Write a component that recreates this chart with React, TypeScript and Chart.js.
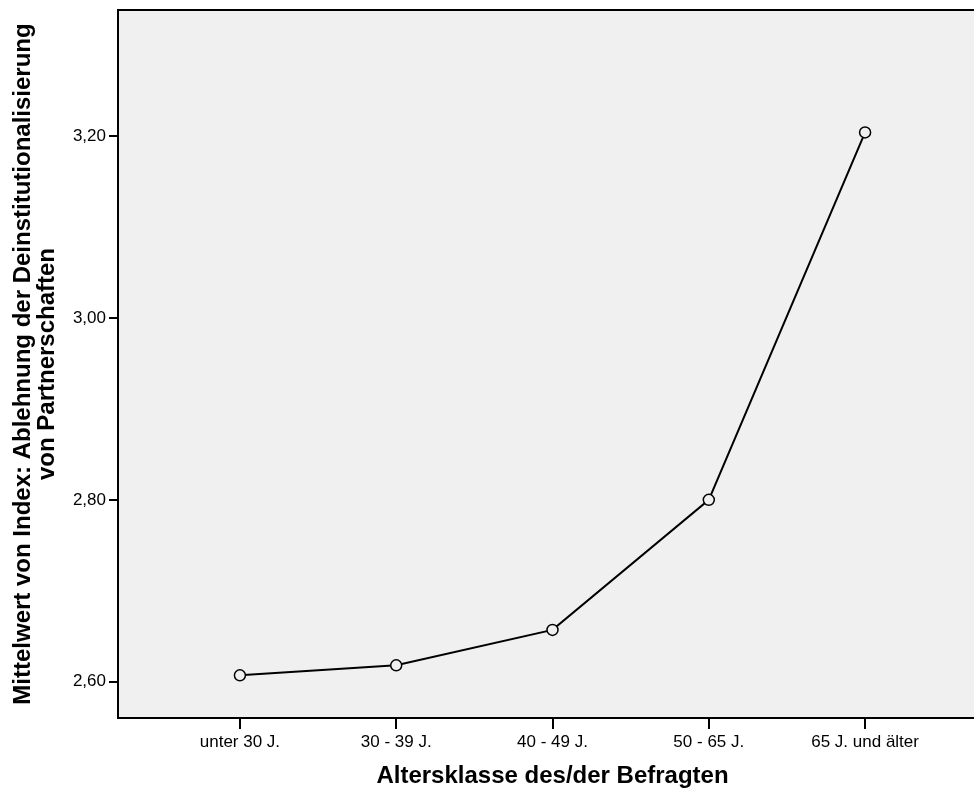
import React, { useEffect, useRef } from "react";
import { Chart, registerables } from "chart.js";

Chart.register(...registerables);

const categories = ["unter 30 J.", "30 - 39 J.", "40 - 49 J.", "50 - 65 J.", "65 J. und älter"];
const meanValues = [2.607, 2.618, 2.657, 2.8, 3.204];
const yTickValues = [2.6, 2.8, 3.0, 3.2];
const yTitle = ["Mittelwert von Index: Ablehnung der Deinstitutionalisierung", "von Partnerschaften"];
const xTitle = "Altersklasse des/der Befragten";

const FONT = "'Liberation Sans', Arial, sans-serif";

export default function App() {
  const ref = useRef<HTMLCanvasElement | null>(null);

  useEffect(() => {
    if (!ref.current) return;
    const bgPlugin = {
      id: "plotBg",
      beforeDraw(chart: any) {
        const { ctx, chartArea } = chart;
        ctx.save();
        ctx.fillStyle = "#f0f0f0";
        ctx.fillRect(chartArea.left, chartArea.top, chartArea.right - chartArea.left, chartArea.bottom - chartArea.top);
        ctx.restore();
      },
      afterDraw(chart: any) {
        const { ctx, chartArea } = chart;
        ctx.save();
        ctx.strokeStyle = "#000";
        ctx.lineWidth = 2;
        ctx.beginPath();
        ctx.moveTo(chartArea.left - 1, chartArea.top);
        ctx.lineTo(chartArea.right + 1, chartArea.top);
        ctx.moveTo(chartArea.right, chartArea.top);
        ctx.lineTo(chartArea.right, chartArea.bottom);
        ctx.stroke();
        ctx.restore();
      },
    };

    const chart = new Chart(ref.current, {
      type: "line",
      data: {
        datasets: [
          {
            data: meanValues.map((v, i) => ({ x: i, y: v })),
            borderColor: "#000",
            borderWidth: 2,
            pointRadius: 5.5,
            pointBorderWidth: 1.5,
            pointBorderColor: "#000",
            pointBackgroundColor: "#f0f0f0",
            pointHoverRadius: 5.5,
            tension: 0,
            fill: false,
          },
        ],
      },
      options: {
        responsive: false,
        animation: false,
        devicePixelRatio: 1,
        layout: { padding: { left: 0, top: 10, right: 13, bottom: 0 } },
        plugins: {
          legend: { display: false },
          tooltip: { enabled: false },
        },
        scales: {
          x: {
            type: "linear",
            min: -0.78,
            max: 4.78,
            afterBuildTicks(scale: any) {
              scale.ticks = categories.map((_, i) => ({ value: i }));
            },
            afterFit(scale: any) {
              scale.height = 72;
              scale.paddingLeft = 0;
              scale.paddingRight = 0;
              scale.paddingTop = 0;
              scale.paddingBottom = 0;
            },
            ticks: {
              color: "#000",
              font: { family: FONT, size: 17 },
              padding: 3,
              maxRotation: 0,
              autoSkip: false,
              callback: (v: any) => categories[Number(v)] ?? "",
            },
            grid: {
              drawOnChartArea: false,
              drawTicks: true,
              tickLength: 11,
              color: "#000",
              lineWidth: 2,
            },
            border: { display: true, color: "#000", width: 2 },
            title: {
              display: true,
              text: xTitle,
              color: "#000",
              font: { family: FONT, size: 24, weight: "bold", lineHeight: 1 },
              padding: { top: 0, bottom: 2 },
            },
          },
          y: {
            type: "linear",
            min: 2.5601,
            max: 3.3386,
            afterBuildTicks(scale: any) {
              scale.ticks = yTickValues.map((v) => ({ value: v }));
            },
            afterFit(scale: any) {
              scale.width = 118;
              scale.paddingLeft = 0;
              scale.paddingRight = 0;
              scale.paddingTop = 0;
              scale.paddingBottom = 0;
            },
            ticks: {
              color: "#000",
              font: { family: FONT, size: 17 },
              padding: 3,
              callback: (v: any) => Number(v).toFixed(2).replace(".", ","),
            },
            grid: {
              drawOnChartArea: false,
              drawTicks: true,
              tickLength: 9,
              color: "#000",
              lineWidth: 2,
            },
            border: { display: true, color: "#000", width: 2 },
            title: {
              display: true,
              text: yTitle,
              color: "#000",
              font: { family: FONT, size: 24, weight: "bold", lineHeight: 1 },
              padding: { top: 11, bottom: 0 },
            },
          },
        },
      },
      plugins: [bgPlugin],
    } as any);
    return () => chart.destroy();
  }, []);

  return (
    <div
      style={{
        position: "fixed",
        left: 0,
        top: 0,
        width: 974,
        height: 790,
        overflow: "hidden",
        background: "#fff",
      }}
    >
      <canvas ref={ref} width={1000} height={790} style={{ width: 1000, height: 790, display: "block" }} />
    </div>
  );
}
